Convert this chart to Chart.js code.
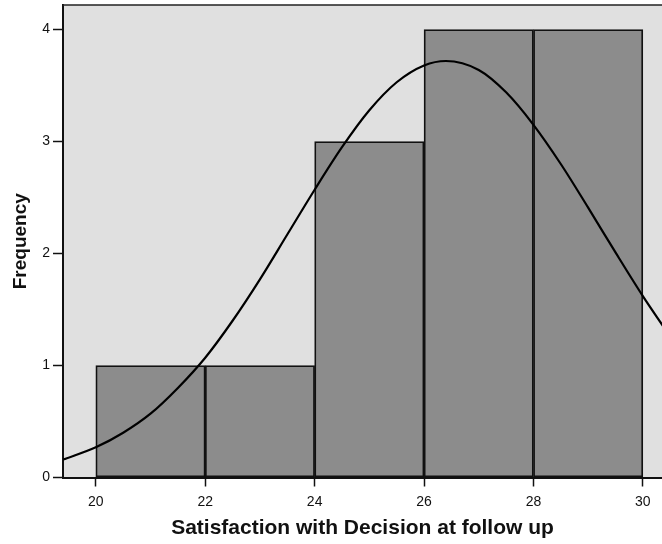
<!DOCTYPE html>
<html>
<head>
<meta charset="utf-8">
<script src="https://cdn.jsdelivr.net/npm/chart.js@4/dist/chart.umd.min.js"></script>
<style>
html,body{margin:0;padding:0;background:#fff;overflow:hidden;}
canvas{display:block;}
</style>
</head>
<body>
<canvas id="c" width="662" height="544" style="width:662px;height:544px"></canvas>
<script>
// Histogram bins (midpoints) and frequencies
const binMid = [21, 23, 25, 27, 29];
const counts = [1, 1, 3, 4, 4];
// Fitted normal curve
const curveX = [19.4, 20, 20.5, 21, 21.5, 22, 22.5, 23, 23.5, 24, 24.5, 25, 25.5, 26, 26.4, 27, 27.5, 28, 28.5, 29, 29.5, 30, 30.4];
const curveY = [0.16, 0.27, 0.40, 0.57, 0.80, 1.07, 1.40, 1.77, 2.17, 2.57, 2.95, 3.28, 3.53, 3.68, 3.72, 3.64, 3.44, 3.15, 2.80, 2.41, 2.01, 1.62, 1.33];
// Tick labels
const xTicks = [20, 22, 24, 26, 28, 30];
const yTicks = [0, 1, 2, 3, 4];
const xTitle = 'Satisfaction with Decision at follow up';
const yTitle = 'Frequency';

const FONT = '"Liberation Sans", Arial, Helvetica, sans-serif';

const plotBg = {
  id: 'plotBg',
  beforeDraw(chart) {
    const {ctx, chartArea: a} = chart;
    ctx.save();
    ctx.fillStyle = '#e0e0e0';
    ctx.fillRect(a.left, a.top, a.right - a.left, a.bottom - a.top);
    ctx.restore();
  },
  afterDraw(chart) {
    const {ctx, chartArea: a} = chart;
    ctx.save();
    ctx.strokeStyle = '#222';
    ctx.lineWidth = 1.5;
    ctx.beginPath();
    ctx.moveTo(a.left, a.top);
    ctx.lineTo(a.right, a.top);
    ctx.stroke();
    ctx.restore();
  }
};

new Chart(document.getElementById('c'), {
  type: 'bar',
  data: {
    datasets: [
      {
        type: 'line',
        data: curveX.map((x, i) => ({x, y: curveY[i]})),
        borderColor: '#000',
        borderWidth: 2.2,
        pointRadius: 0,
        fill: false,
        cubicInterpolationMode: 'monotone',
        order: 0
      },
      {
        type: 'bar',
        data: binMid.map((x, i) => ({x, y: counts[i]})),
        backgroundColor: '#8c8c8c',
        borderColor: '#111',
        borderWidth: 1.8,
        borderSkipped: false,
        barPercentage: 1,
        categoryPercentage: 1,
        order: 1
      }
    ]
  },
  options: {
    responsive: false,
    animation: false,
    layout: {padding: {top: 5, right: 0, left: 0, bottom: 0}},
    plugins: {legend: {display: false}, tooltip: {enabled: false}},
    scales: {
      x: {
        type: 'linear',
        min: 19.4,
        max: 30.35,
        offset: false,
        afterBuildTicks: s => { s.ticks = xTicks.map(v => ({value: v})); },
        afterFit: s => { s.height = 66.5; s.paddingLeft = 0; s.paddingRight = 0; },
        grid: {drawOnChartArea: false, drawTicks: true, tickLength: 9, tickColor: '#111', tickWidth: 1.5, offset: false},
        border: {color: '#111', width: 2},
        ticks: {padding: 7, color: '#111', font: {family: FONT, size: 14}, maxRotation: 0},
        title: {display: true, text: xTitle, color: '#111', font: {family: FONT, size: 21, weight: 'bold'}, padding: {top: 0, bottom: 3}}
      },
      y: {
        type: 'linear',
        min: 0,
        max: 4.22,
        afterBuildTicks: s => { s.ticks = yTicks.map(v => ({value: v})); },
        afterFit: s => { s.width = 63; s.paddingTop = 0; s.paddingBottom = 0; },
        grid: {drawOnChartArea: false, drawTicks: true, tickLength: 10, tickColor: '#111', tickWidth: 1.5},
        border: {color: '#111', width: 2},
        ticks: {padding: 3, color: '#111', font: {family: FONT, size: 14}},
        title: {display: true, text: yTitle, color: '#111', font: {family: FONT, size: 19, weight: 'bold'}, padding: {top: 9, bottom: 0}}
      }
    }
  },
  plugins: [plotBg]
});
</script>
</body>
</html>
